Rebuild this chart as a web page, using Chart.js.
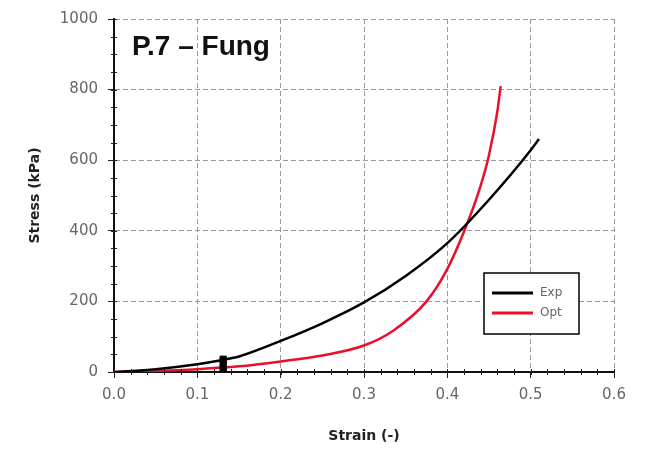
<!DOCTYPE html>
<html><head><meta charset="utf-8">
<script src="https://cdn.jsdelivr.net/npm/chart.js@4/dist/chart.umd.min.js"></script>
<style>html,body{margin:0;padding:0;background:#fff}#wrap{width:649px;height:449px}</style>
</head><body><div id="wrap"><canvas id="c" width="649" height="449"></canvas></div>
<script>
const expStrain = [0, 0.05, 0.1, 0.13, 0.15, 0.2, 0.25, 0.3, 0.35, 0.4, 0.45, 0.5, 0.51];
const expStress = [0, 8, 22, 34, 44, 88, 138, 197, 272, 365, 488, 628, 660];
const optStrain = [0, 0.05, 0.1, 0.15, 0.2, 0.25, 0.3, 0.335, 0.375, 0.4, 0.427, 0.44, 0.45, 0.46, 0.464];
const optStress = [0, 3, 8, 16, 30, 47, 75, 117, 200, 292, 440, 528, 615, 738, 810];
const markStrain = [0.131, 0.131, 0.131];
const markStress = [6, 20, 36];
const xTicks = [0, 0.1, 0.2, 0.3, 0.4, 0.5, 0.6];
const yTicks = [0, 200, 400, 600, 800, 1000];
const seriesNames = ['Exp', 'Opt'];
const titleText = 'P.7 \u2013 Fung';

const pts = (xs, ys) => xs.map((x, i) => ({x: x, y: ys[i]}));

const decor = {
  id: 'decor',
  afterDraw(chart) {
    const ctx = chart.ctx, xs = chart.scales.x, ys = chart.scales.y, a = chart.chartArea;
    ctx.save();
    ctx.strokeStyle = '#222'; ctx.lineWidth = 1;
    for (let v = 0; v <= 1000; v += 50) {
      const py = Math.round(ys.getPixelForValue(v)) + 0.5;
      ctx.beginPath(); ctx.moveTo(a.left - 3, py); ctx.lineTo(a.left + 3, py); ctx.stroke();
    }
    for (let i = 0; i <= 30; i++) {
      const px = Math.round(xs.getPixelForValue(i * 0.02)) + 0.5;
      ctx.beginPath(); ctx.moveTo(px, a.bottom - 3); ctx.lineTo(px, a.bottom + 3); ctx.stroke();
    }
    ctx.fillStyle = '#111';
    ctx.font = 'bold 28px "Liberation Sans", Arial, sans-serif';
    ctx.textBaseline = 'middle'; ctx.textAlign = 'left';
    ctx.fillText(titleText, a.left + 18, 47);
    const bx = 484, by = 273, bw = 95, bh = 61;
    ctx.lineWidth = 1.5; ctx.strokeStyle = '#000'; ctx.fillStyle = '#fff';
    ctx.fillRect(bx, by, bw, bh); ctx.strokeRect(bx, by, bw, bh);
    const cols = ['#000000', '#e8102a'];
    ctx.font = '12px "DejaVu Sans", sans-serif';
    seriesNames.forEach((n, i) => {
      const yy = by + 20 + i * 20;
      ctx.strokeStyle = cols[i]; ctx.lineWidth = 3;
      ctx.beginPath(); ctx.moveTo(bx + 8, yy); ctx.lineTo(bx + 49, yy); ctx.stroke();
      ctx.fillStyle = '#666';
      ctx.fillText(n, bx + 56, yy);
    });
    ctx.restore();
  }
};

const tickFont = {size: 15, family: '"DejaVu Sans", sans-serif'};
const axisTitleFont = {size: 14, weight: 'bold', family: '"DejaVu Sans", sans-serif'};

new Chart(document.getElementById('c'), {
  type: 'line',
  data: {
    datasets: [
      {label: seriesNames[0], data: pts(expStrain, expStress), borderColor: '#000', borderWidth: 2.5, pointRadius: 0, cubicInterpolationMode: 'monotone', order: 1},
      {label: seriesNames[1], data: pts(optStrain, optStress), borderColor: '#e8102a', borderWidth: 2.5, pointRadius: 0, cubicInterpolationMode: 'monotone', order: 2},
      {label: 'marker', data: pts(markStrain, markStress), showLine: false, pointStyle: 'rect', pointRadius: 4.5, backgroundColor: '#000', borderColor: '#000', order: 0}
    ]
  },
  options: {
    responsive: false, animation: false,
    layout: {padding: {top: 19, right: 35, left: 0, bottom: 0}},
    plugins: {legend: {display: false}, tooltip: {enabled: false}},
    scales: {
      x: {
        type: 'linear', min: 0, max: 0.6,
        afterBuildTicks: s => { s.ticks = xTicks.map(v => ({value: v})); },
        afterFit: s => { s.height = 77; },
        ticks: {color: '#666', font: tickFont, padding: 8, callback: v => v.toFixed(1)},
        grid: {color: '#999', lineWidth: 1, tickLength: 6, tickColor: '#222'},
        border: {display: true, color: '#111', width: 2, dash: [5, 3]},
        title: {display: true, text: 'Strain (-)', color: '#222', font: axisTitleFont, padding: {top: 4, bottom: 4}}
      },
      y: {
        type: 'linear', min: 0, max: 1000,
        afterBuildTicks: s => { s.ticks = yTicks.map(v => ({value: v})); },
        afterFit: s => { s.width = 114; },
        ticks: {color: '#666', font: tickFont, padding: 10, callback: v => String(v)},
        grid: {color: '#999', lineWidth: 1, tickLength: 6, tickColor: '#222'},
        border: {display: true, color: '#111', width: 2, dash: [5, 3]},
        title: {display: true, text: 'Stress (kPa)', color: '#222', font: axisTitleFont, padding: {top: 27, bottom: 0}}
      }
    }
  },
  plugins: [decor]
});
</script>
</body></html>
